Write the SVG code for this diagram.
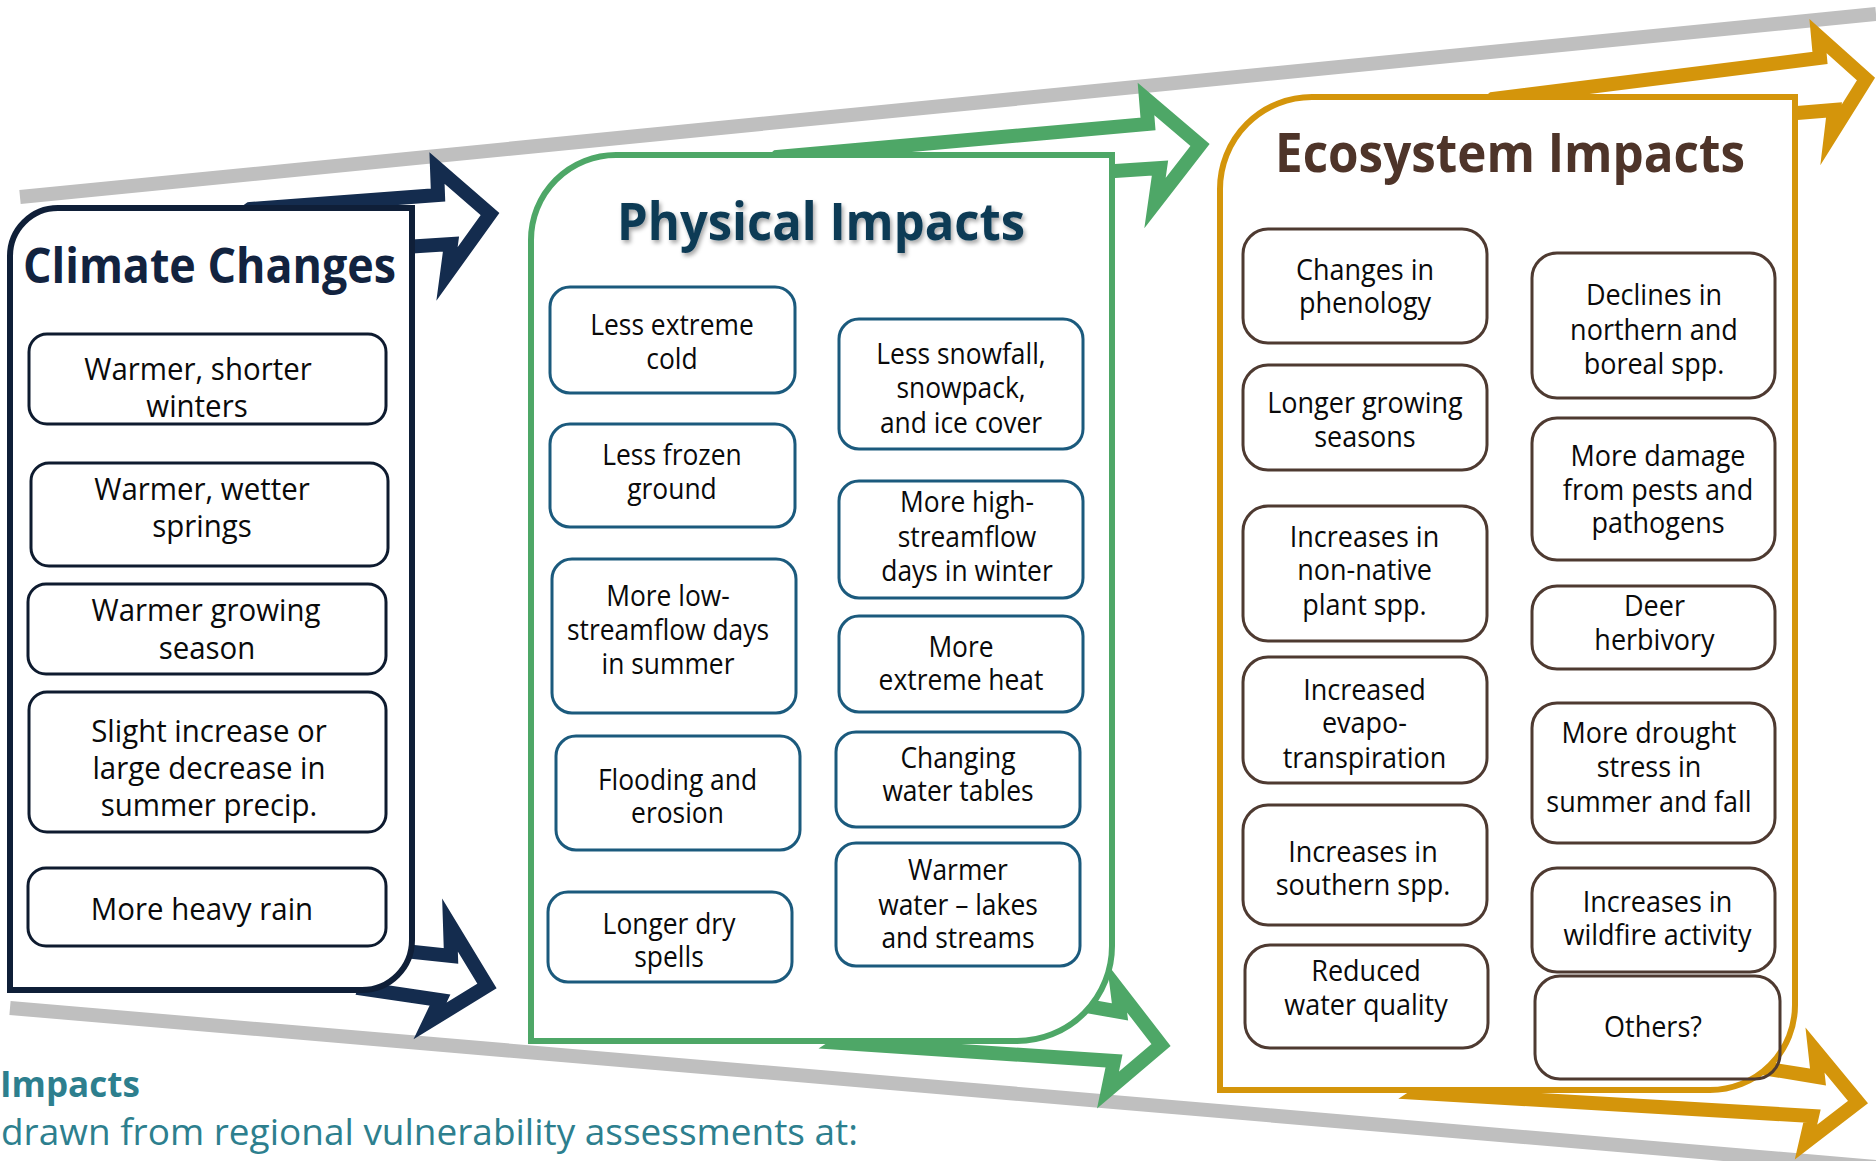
<svg xmlns="http://www.w3.org/2000/svg" width="1876" height="1161" viewBox="0 0 1876 1161">
<defs>
<style>
.gray{stroke:#BFBFBF;stroke-width:14;fill:none}
.arr{fill:#fff;stroke-width:14;stroke-linejoin:miter;stroke-miterlimit:10}
.navy{stroke:#142C4E}
.green{stroke:#4EA767}
.orange{stroke:#D4950B}
.panel{fill:#fff;stroke-width:6}
.cbox{fill:#fff;stroke:#0E1B2F;stroke-width:3}
.pbox{fill:#fff;stroke:#1B5A7D;stroke-width:3}
.ebox{fill:#fff;stroke:#4E3A31;stroke-width:3}
.t{font-family:"Open Sans","Noto Sans","DejaVu Sans",sans-serif;fill:#0a0a0a;text-anchor:middle}
.ct{font-size:31px}
.pt{font-size:29px}
.et{font-size:30px}
.title{font-family:"Open Sans","Noto Sans","DejaVu Sans",sans-serif;font-weight:700}
.foot{font-family:"Open Sans","Noto Sans","DejaVu Sans",sans-serif;fill:#2D7F8E}
</style>
<filter id="shadow" x="-5%" y="-20%" width="110%" height="150%">
<feDropShadow dx="2" dy="3" stdDeviation="2" flood-color="#000" flood-opacity="0.35"/>
</filter>
</defs>
<rect width="1876" height="1161" fill="#fff"/>

<g id="connectors">
<line class="gray" x1="20" y1="197" x2="1876" y2="14"/>
<line class="gray" x1="10" y1="1008" x2="1876" y2="1167"/>
<path class="arr navy" d="M250,209 L438,195 L437,168 L490,214 L447,274 L451,244 L405,247 L232,222 Z"/>
<path class="arr navy" d="M395,950 L451,956 L450,925 L487,986 L430,1021 L440,1000 L365,989 L370,975 Z"/>
<path class="arr green" d="M777,157 L1148,124 L1146,99 L1200,145 L1155,203 L1160,168 L1100,172 L760,172 Z"/>
<path class="arr green" d="M1070,1003 L1120,1012 L1117,988 L1161,1045 L1108,1090 L1114,1061 L840,1043 L860,1030 Z"/>
<path class="arr orange" d="M1493,99 L1820,58 L1818,36 L1866,79 L1831,135 L1834,110 L1785,114 L1475,114 Z"/>
<path class="arr orange" d="M1750,1066 L1818,1077 L1815,1050 L1858,1102 L1806,1142 L1812,1116 L1420,1093 L1440,1080 L1700,1060 Z"/>
</g>

<g id="panel-climate">
<path class="panel" stroke="#0F1F38" d="M10,990 L10,256 A48,48 0 0 1 58,208 L412,208 L412,940 A50,50 0 0 1 362,990 Z"/>
<text class="title" x="23" y="283" font-size="48" fill="#12233F" textLength="373" lengthAdjust="spacingAndGlyphs">Climate Changes</text>
</g>
<g id="panel-physical">
<path class="panel" stroke="#4EA767" d="M531,1041 L531,240 A85,85 0 0 1 616,155 L1112,155 L1112,946 A95,95 0 0 1 1017,1041 Z"/>
<text class="title" x="617" y="240" font-size="52" fill="#0B3A55" textLength="408" lengthAdjust="spacingAndGlyphs" filter="url(#shadow)">Physical Impacts</text>
</g>
<g id="panel-ecosystem">
<path class="panel" stroke="#D4950B" d="M1220,1090 L1220,189 A92,92 0 0 1 1312,97 L1795,97 L1795,1005 A85,85 0 0 1 1710,1090 Z"/>
<text class="title" x="1275" y="172" font-size="54" fill="#4E3429" textLength="470" lengthAdjust="spacingAndGlyphs">Ecosystem Impacts</text>
</g>

<!-- Climate boxes -->
<g id="c1"><rect class="cbox" x="29" y="334" width="357" height="90" rx="18"/>
<text class="t ct" transform="matrix(0.95 0 0 1 9.875 0)"><tspan x="198" y="380">Warmer, shorter</tspan><tspan x="197" y="417">winters</tspan></text></g>
<g id="c2"><rect class="cbox" x="31" y="463" width="357" height="103" rx="18"/>
<text class="t ct" transform="matrix(0.95 0 0 1 10.1 0)"><tspan x="202" y="500">Warmer, wetter</tspan><tspan x="202" y="537">springs</tspan></text></g>
<g id="c3"><rect class="cbox" x="28" y="584" width="358" height="90" rx="18"/>
<text class="t ct" transform="matrix(0.95 0 0 1 10.33 0)"><tspan x="206" y="621">Warmer growing</tspan><tspan x="207" y="659">season</tspan></text></g>
<g id="c4"><rect class="cbox" x="29" y="692" width="357" height="140" rx="18"/>
<text class="t ct" transform="matrix(0.95 0 0 1 10.45 0)"><tspan x="209" y="742">Slight increase or</tspan><tspan x="209" y="779">large decrease in</tspan><tspan x="209" y="816">summer precip.</tspan></text></g>
<g id="c5"><rect class="cbox" x="28" y="868" width="358" height="78" rx="18"/>
<text class="t ct" transform="matrix(0.95 0 0 1 10.1 0)" x="202" y="920">More heavy rain</text></g>

<!-- Physical boxes -->
<g id="p1"><rect class="pbox" x="550" y="287" width="245" height="106" rx="20"/>
<text class="t pt" transform="matrix(0.91 0 0 1 60.48 0)"><tspan x="672" y="335">Less extreme</tspan><tspan x="672" y="369">cold</tspan></text></g>
<g id="p2"><rect class="pbox" x="550" y="424" width="245" height="103" rx="20"/>
<text class="t pt" transform="matrix(0.91 0 0 1 60.48 0)"><tspan x="672" y="465">Less frozen</tspan><tspan x="672" y="499">ground</tspan></text></g>
<g id="p3"><rect class="pbox" x="552" y="559" width="244" height="154" rx="20"/>
<text class="t pt" transform="matrix(0.91 0 0 1 60.12 0)"><tspan x="668" y="606">More low-</tspan><tspan x="668" y="640">streamflow days</tspan><tspan x="668" y="674">in summer</tspan></text></g>
<g id="p4"><rect class="pbox" x="556" y="736" width="244" height="114" rx="20"/>
<text class="t pt" transform="matrix(0.91 0 0 1 60.98 0)"><tspan x="677.5" y="790">Flooding and</tspan><tspan x="677.5" y="823">erosion</tspan></text></g>
<g id="p5"><rect class="pbox" x="548" y="892" width="244" height="90" rx="20"/>
<text class="t pt" transform="matrix(0.91 0 0 1 60.21 0)"><tspan x="669" y="934">Longer dry</tspan><tspan x="669" y="967">spells</tspan></text></g>
<g id="p6"><rect class="pbox" x="839" y="319" width="244" height="130" rx="20"/>
<text class="t pt" transform="matrix(0.91 0 0 1 86.49 0)"><tspan x="961" y="364">Less snowfall,</tspan><tspan x="961" y="398">snowpack,</tspan><tspan x="961" y="433">and ice cover</tspan></text></g>
<g id="p7"><rect class="pbox" x="839" y="481" width="244" height="117" rx="20"/>
<text class="t pt" transform="matrix(0.91 0 0 1 87.03 0)"><tspan x="967" y="512">More high-</tspan><tspan x="967" y="547">streamflow</tspan><tspan x="967" y="581">days in winter</tspan></text></g>
<g id="p8"><rect class="pbox" x="839" y="616" width="244" height="96" rx="20"/>
<text class="t pt" transform="matrix(0.91 0 0 1 86.49 0)"><tspan x="961" y="657">More</tspan><tspan x="961" y="690">extreme heat</tspan></text></g>
<g id="p9"><rect class="pbox" x="836" y="732" width="244" height="95" rx="20"/>
<text class="t pt" transform="matrix(0.91 0 0 1 86.22 0)"><tspan x="958" y="768">Changing</tspan><tspan x="958" y="801">water tables</tspan></text></g>
<g id="p10"><rect class="pbox" x="836" y="843" width="244" height="123" rx="20"/>
<text class="t pt" transform="matrix(0.91 0 0 1 86.22 0)"><tspan x="958" y="880">Warmer</tspan><tspan x="958" y="915">water – lakes</tspan><tspan x="958" y="948">and streams</tspan></text></g>

<!-- Ecosystem boxes -->
<g id="e1"><rect class="ebox" x="1243" y="229" width="244" height="114" rx="25"/>
<text class="t et" transform="matrix(0.9 0 0 1 136.5 0)"><tspan x="1365" y="280">Changes in</tspan><tspan x="1365" y="313">phenology</tspan></text></g>
<g id="e2"><rect class="ebox" x="1243" y="365" width="244" height="105" rx="25"/>
<text class="t et" transform="matrix(0.9 0 0 1 136.5 0)"><tspan x="1365" y="413">Longer growing</tspan><tspan x="1365" y="447">seasons</tspan></text></g>
<g id="e3"><rect class="ebox" x="1243" y="506" width="244" height="135" rx="25"/>
<text class="t et" transform="matrix(0.9 0 0 1 136.45 0)"><tspan x="1364.5" y="547">Increases in</tspan><tspan x="1364.5" y="580">non-native</tspan><tspan x="1364.5" y="615">plant spp.</tspan></text></g>
<g id="e4"><rect class="ebox" x="1243" y="657" width="244" height="126" rx="25"/>
<text class="t et" transform="matrix(0.9 0 0 1 136.45 0)"><tspan x="1364.5" y="700">Increased</tspan><tspan x="1364.5" y="733">evapo-</tspan><tspan x="1364.5" y="768">transpiration</tspan></text></g>
<g id="e5"><rect class="ebox" x="1243" y="805" width="244" height="120" rx="25"/>
<text class="t et" transform="matrix(0.9 0 0 1 136.3 0)"><tspan x="1363" y="862">Increases in</tspan><tspan x="1363" y="895">southern spp.</tspan></text></g>
<g id="e6"><rect class="ebox" x="1245" y="945" width="243" height="103" rx="25"/>
<text class="t et" transform="matrix(0.9 0 0 1 136.6 0)"><tspan x="1366" y="981">Reduced</tspan><tspan x="1366" y="1015">water quality</tspan></text></g>
<g id="e7"><rect class="ebox" x="1532" y="253" width="243" height="145" rx="25"/>
<text class="t et" transform="matrix(0.9 0 0 1 165.4 0)"><tspan x="1654" y="305">Declines in</tspan><tspan x="1654" y="340">northern and</tspan><tspan x="1654" y="374">boreal spp.</tspan></text></g>
<g id="e8"><rect class="ebox" x="1532" y="418" width="243" height="142" rx="25"/>
<text class="t et" transform="matrix(0.9 0 0 1 165.8 0)"><tspan x="1658" y="466">More damage</tspan><tspan x="1658" y="500">from pests and</tspan><tspan x="1658" y="533">pathogens</tspan></text></g>
<g id="e9"><rect class="ebox" x="1532" y="586" width="243" height="83" rx="25"/>
<text class="t et" transform="matrix(0.9 0 0 1 165.45 0)"><tspan x="1654.5" y="616">Deer</tspan><tspan x="1654.5" y="650">herbivory</tspan></text></g>
<g id="e10"><rect class="ebox" x="1532" y="703" width="243" height="140" rx="25"/>
<text class="t et" transform="matrix(0.9 0 0 1 164.9 0)"><tspan x="1649" y="743">More drought</tspan><tspan x="1649" y="777">stress in</tspan><tspan x="1649" y="812">summer and fall</tspan></text></g>
<g id="e11"><rect class="ebox" x="1532" y="868" width="243" height="104" rx="25"/>
<text class="t et" transform="matrix(0.9 0 0 1 165.75 0)"><tspan x="1657.5" y="912">Increases in</tspan><tspan x="1657.5" y="945">wildfire activity</tspan></text></g>
<g id="e12"><rect class="ebox" x="1535" y="976" width="245" height="103" rx="25" style="fill:none"/>
<text class="t et" transform="matrix(0.9 0 0 1 165.3 0)" x="1653" y="1037">Others?</text></g>

<g id="footer">
<text class="foot" x="0" y="1097" font-size="35" font-weight="700">Impacts</text>
<text class="foot" x="1" y="1145" font-size="36" textLength="857" lengthAdjust="spacingAndGlyphs">drawn from regional vulnerability assessments at:</text>
</g>
</svg>
